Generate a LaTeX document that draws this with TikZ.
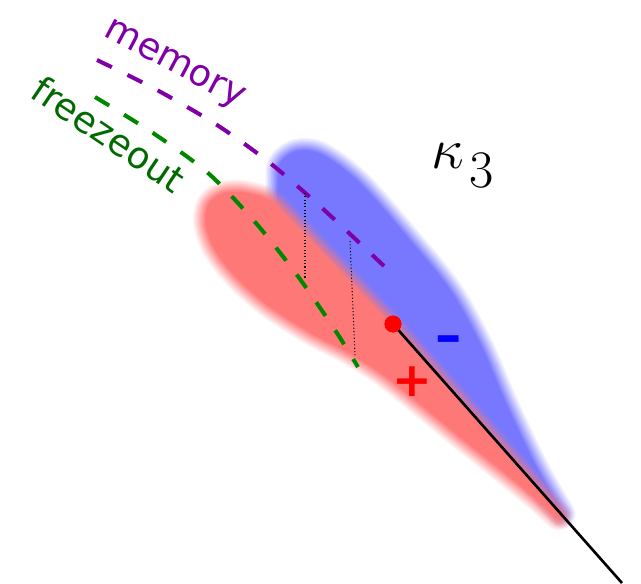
\documentclass[tikz,border=0pt]{standalone}
\usepackage{fix-cm}
\usepackage{fontspec}
\newfontfamily\labelfont{DejaVu Sans}
\definecolor{lobeblue}{RGB}{120,120,255}
\definecolor{lobered}{RGB}{255,120,120}
\definecolor{memline}{RGB}{128,0,168}
\definecolor{fzline}{RGB}{0,135,0}
\definecolor{fztext}{RGB}{0,105,0}

% the two lobes, split along the axis
\newcommand\bluelobe{(278,203) -- (393,323) -- (562,514) -- plot[smooth,tension=0.55] coordinates {(562,514) (535,467) (505,404) (480,346) (450,292) (409,241) (359,184) (322,156) (298,152) (281,164) (279,185) (278,203)} -- cycle}
\newcommand\redlobe{(275,206) -- (390,326) -- (559,517) -- plot[smooth,tension=0.55] coordinates {(559,517) (534,495) (501,468) (461,436) (421,403) (383,373) (350,352) (310,331) (267,303) (236,275) (216,249) (207,225) (209,206) (220,196) (237,193) (262,198) (275,206)} -- cycle}
% soft edge: widening strokes, fading out
\newcommand\softfill[2]{%
  \foreach \k in {1,...,10}{\pgfmathsetmacro\op{1/\k}%
    \draw[#1,line join=round,line width=\k*1.55pt,draw opacity=\op] #2;}
  \fill[#1] #2;}

\begin{document}
\begin{tikzpicture}[x=0.02cm,y=-0.02cm,
    memdash/.style={memline,line width=2.3pt,dash pattern=on 9.4pt off 9.9pt},
    fzdash/.style={fzline,line width=2.3pt,dash pattern=on 9.4pt off 9.9pt},
    guide/.style={black,line width=0.6pt,dash pattern=on 0.6pt off 1.3pt},
    tag/.style={inner sep=0pt,font=\labelfont\fontsize{21}{25}\selectfont},
    sign/.style={inner sep=0pt,font=\labelfont\bfseries\fontsize{27}{30}\selectfont}]
\useasboundingbox (0,0) rectangle (641,583);
%%%%% lobes
\softfill{lobeblue}{\bluelobe}
\softfill{lobered}{\redlobe}
%%%%% surfaces
\draw[memdash] plot[smooth] coordinates {(97,60) (157,90) (217,125) (270,163) (322,208) (384,266)};
\draw[fzdash] plot[smooth] coordinates {(95,97) (153,133) (208,173) (255,222) (297,275) (335,330) (358,367)};
\coordinate (m1) at (305,193);
\coordinate (f1) at (305,279);
\coordinate (m2) at (350,241);
\coordinate (f2) at (355,355);
\draw[guide] (m1) -- (f1);
\draw[guide] (m2) -- (f2);
%%%%% axis
\coordinate (tail) at (622,583);
\node[circle,fill=red,inner sep=0pt,minimum size=9.6pt] (dot) at (393,324) {};
\draw[black,line width=1.5pt] (dot.center) -- (tail);
\node[circle,fill=red,inner sep=0pt,minimum size=9.6pt] at (dot) {};
%%%%% labels
\node[tag,memline,rotate=-28,anchor=base west] (memlabel) at (102,35) {memory};
\node[tag,fztext,rotate=-34,anchor=base west] (fzlabel) at (28,96) {freezeout};
\node[anchor=base west,inner sep=0pt,font=\fontsize{33}{36}\selectfont] (kappa) at (431,168) {$\kappa$\kern3pt\raisebox{-11pt}{\fontsize{30}{32}\selectfont 3}};
\node[sign,blue,font=\labelfont\bfseries\fontsize{30}{32}\selectfont] (minus) at (449,345) {–};
\node[sign,red] (plus) at (412,382) {+};
\end{tikzpicture}
\end{document}
